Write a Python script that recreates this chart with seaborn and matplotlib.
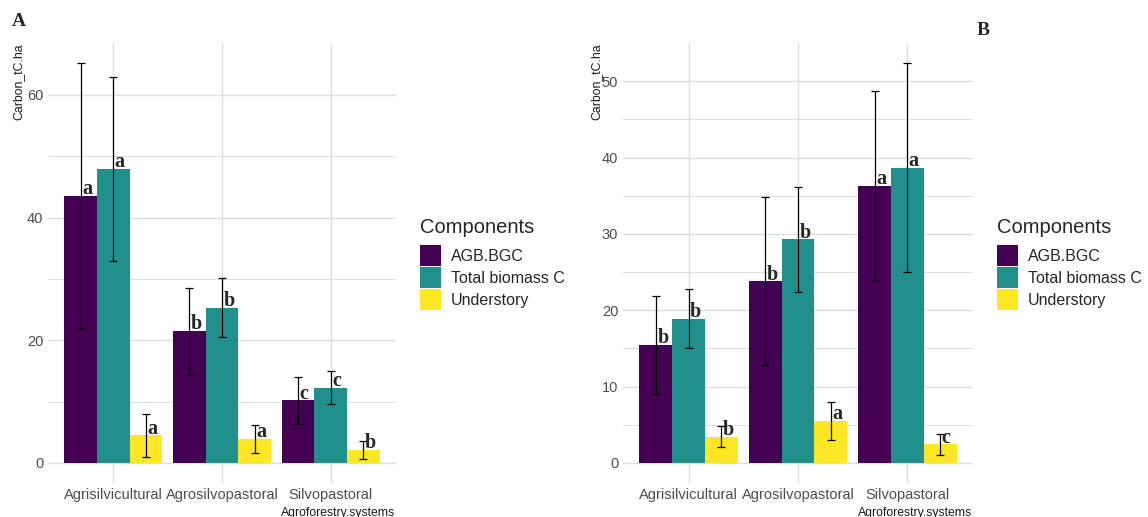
import numpy as np
import pandas as pd
import matplotlib
matplotlib.use("Agg")
import matplotlib.pyplot as plt
import seaborn as sns
from matplotlib.ticker import MultipleLocator, FixedLocator

# ---- data -----------------------------------------------------------------
systems = ["Agrisilvicultural", "Agrosilvopastoral", "Silvopastoral"]
components = ["AGB.BGC", "Total biomass C", "Understory"]
palette = ["#440154", "#21908C", "#FDE725"]

# Panel A: mean carbon (tC/ha) and standard deviation per component
a_agb = [43.5, 21.5, 10.2]
a_agb_sd = [21.7, 7.1, 3.85]
a_total = [47.9, 25.3, 12.3]
a_total_sd = [15.0, 4.8, 2.7]
a_under = [4.5, 3.9, 2.1]
a_under_sd = [3.5, 2.3, 1.45]
a_agb_letters = ["a", "b", "c"]
a_total_letters = ["a", "b", "c"]
a_under_letters = ["a", "a", "b"]

# Panel B
b_agb = [15.5, 23.8, 36.3]
b_agb_sd = [6.4, 11.0, 12.4]
b_total = [18.9, 29.3, 38.7]
b_total_sd = [3.9, 6.9, 13.7]
b_under = [3.45, 5.5, 2.45]
b_under_sd = [1.4, 2.45, 1.4]
b_agb_letters = ["b", "b", "a"]
b_total_letters = ["b", "b", "a"]
b_under_letters = ["b", "a", "c"]

# ---- style ----------------------------------------------------------------
sns.set_style("white")
plt.rcParams["font.family"] = ["Liberation Sans", "DejaVu Sans"]
SERIF = ["Liberation Serif", "DejaVu Serif"]
GRID = "#dedede"
TICK = "#4d4d4d"

W, H = 1148, 517
fig = plt.figure(figsize=(W / 100, H / 100), dpi=100)


def frame(agb, total, under):
    return pd.DataFrame({
        "Agroforestry.systems": systems * 3,
        "Components": np.repeat(components, len(systems)),
        "Carbon_tC.ha": agb + total + under,
    })


def draw_panel(rect, means, sds, letters, major, minor, ylab_x, xlab_right, legend_x):
    ax = fig.add_axes(rect)
    df = frame(*means)
    sns.barplot(data=df, x="Agroforestry.systems", y="Carbon_tC.ha",
                hue="Components", order=systems, hue_order=components,
                palette=palette, saturation=1, width=0.9, errorbar=None,
                linewidth=0, ax=ax, zorder=2)

    for cont, m_list, s_list, l_list in zip(ax.containers, means, sds, letters):
        bars = sorted(cont.patches, key=lambda p: p.get_x())
        for bar, m, s, lab in zip(bars, m_list, s_list, l_list):
            cx = bar.get_x() + bar.get_width() / 2
            ax.errorbar(cx, m, yerr=s, color="black", lw=0.9,
                        capsize=2.7, capthick=0.9, zorder=3)
            ax.annotate(lab, (cx, m), xytext=(1.0, 1.2),
                        textcoords="offset points", ha="left", va="baseline",
                        fontsize=14.5, fontweight="bold", family=SERIF,
                        zorder=4)

    top = max(max(np.add(m, s)) for m, s in zip(means, sds))
    lo, hi = -0.05 * top, 1.05 * top
    ax.set_ylim(lo, hi)
    ax.set_xlim(-0.6, 2.6)
    ax.yaxis.set_major_locator(MultipleLocator(major))
    minors = [v for v in np.arange(minor, hi, 2 * minor) if v < hi - 0.1 * minor]
    ax.yaxis.set_minor_locator(FixedLocator(minors))
    ax.grid(which="major", axis="both", color=GRID, lw=1.0, zorder=0)
    ax.grid(which="minor", axis="y", color=GRID, lw=0.7, zorder=0)
    ax.set_axisbelow(True)
    for sp in ax.spines.values():
        sp.set_visible(False)
    ax.tick_params(axis="both", which="both", length=0, labelsize=10.5,
                   labelcolor=TICK)
    ax.tick_params(axis="y", pad=3.4)
    ax.tick_params(axis="x", pad=3.5)
    ax.set_xlabel("")
    ax.set_ylabel("")

    fig.text(ylab_x / W, 1 - 43 / H, "Carbon_tC.ha", rotation=90,
             ha="center", va="top", fontsize=8.8, color="#1a1a1a")
    fig.text(xlab_right / W, 1 - 507 / H, "Agroforestry.systems",
             ha="right", va="top", fontsize=8.8, color="#1a1a1a")

    sns.move_legend(ax, loc="upper left",
                    bbox_to_anchor=(legend_x / W, 1 - 218 / H),
                    bbox_transform=fig.transFigure, frameon=False,
                    title="Components", title_fontsize=14.5, fontsize=11.5,
                    handlelength=1.3, handleheight=1.66, labelspacing=0.05,
                    handletextpad=0.65, borderpad=0, borderaxespad=0,
                    alignment="left")
    leg = ax.get_legend()
    leg._legend_box.sep = 6
    return ax


axA = draw_panel([48 / W, 1 - 483 / H, 348 / W, 440 / H],
                 [a_agb, a_total, a_under],
                 [a_agb_sd, a_total_sd, a_under_sd],
                 [a_agb_letters, a_total_letters, a_under_letters],
                 20, 10, 18, 395, 420)

axB = draw_panel([623 / W, 1 - 483 / H, 350 / W, 440 / H],
                 [b_agb, b_total, b_under],
                 [b_agb_sd, b_total_sd, b_under_sd],
                 [b_agb_letters, b_total_letters, b_under_letters],
                 10, 5, 596.5, 972, 997)

fig.text(12 / W, 1 - 26.5 / H, "A", ha="left", va="baseline",
         fontsize=14, fontweight="bold", family=SERIF)
fig.text(977 / W, 1 - 35 / H, "B", ha="left", va="baseline",
         fontsize=14, fontweight="bold", family=SERIF)

fig.savefig("out.png", dpi=100)
